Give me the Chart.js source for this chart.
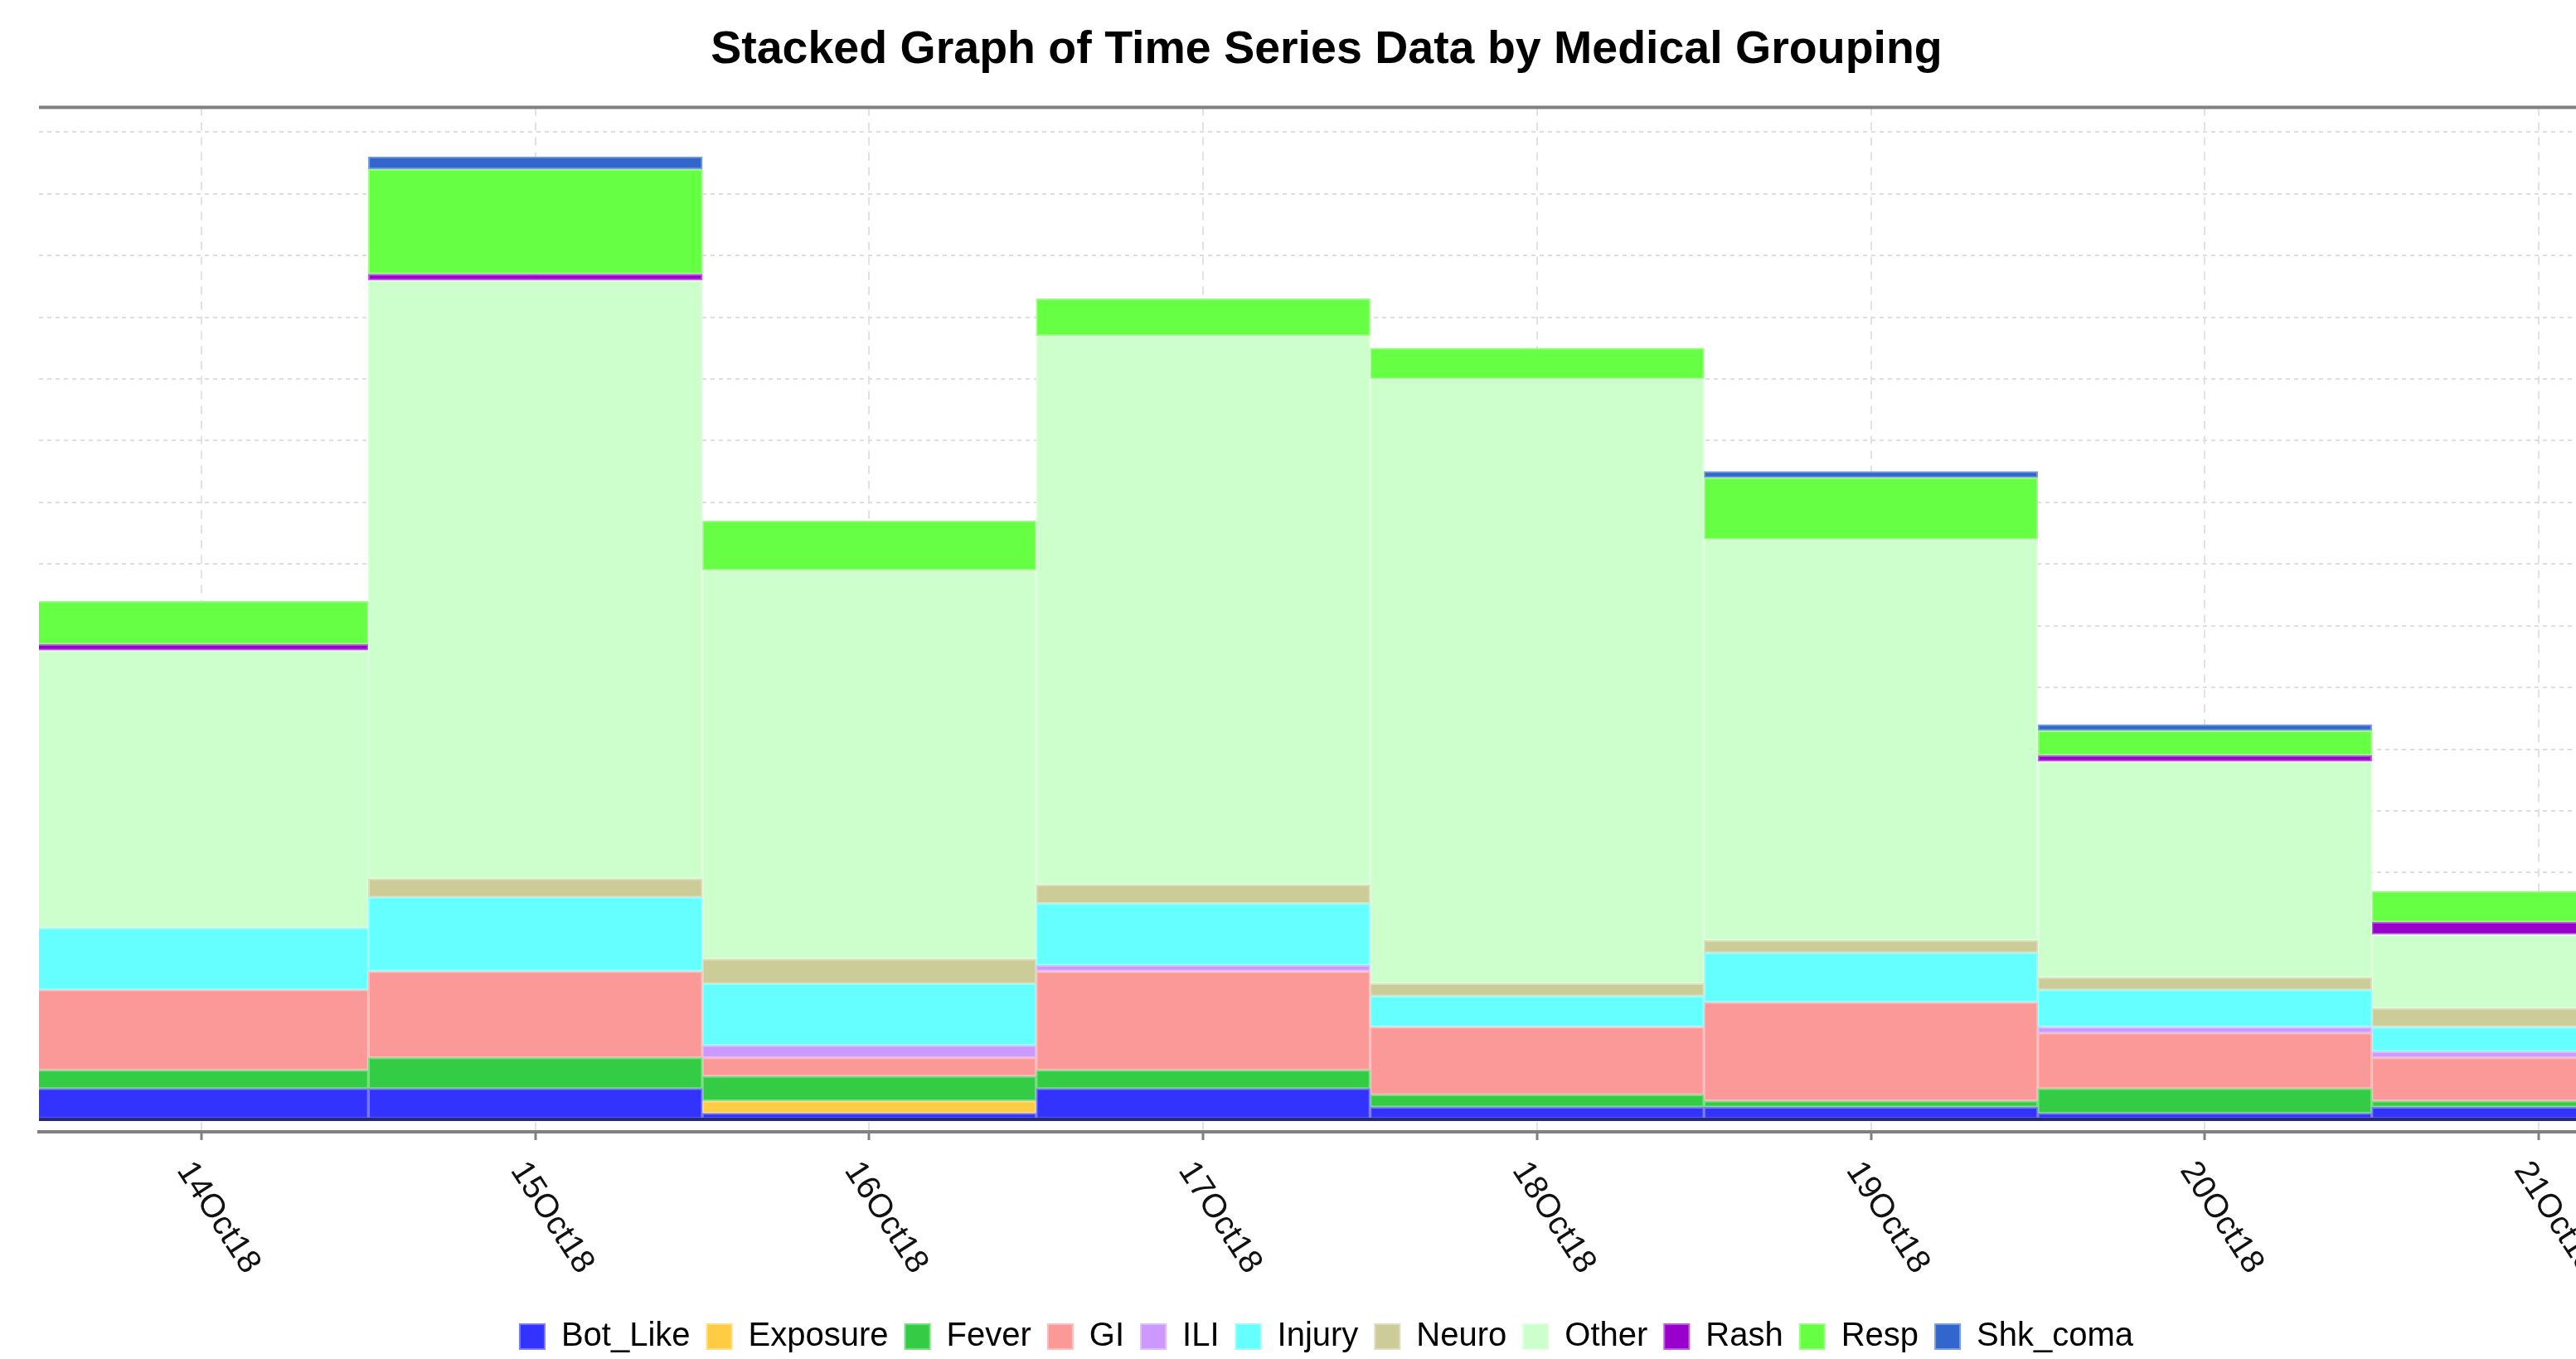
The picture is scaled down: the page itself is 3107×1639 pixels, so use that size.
<!DOCTYPE html>
<html>
<head>
<meta charset="utf-8">
<title>Stacked Graph of Time Series Data by Medical Grouping</title>
<script src="https://cdn.jsdelivr.net/npm/chart.js@4.4.1/dist/chart.umd.min.js"></script>
<style>
  html, body { margin: 0; padding: 0; background: #fff; overflow: hidden; }
  canvas { display: block; }
</style>
</head>
<body>
<canvas id="myChart" width="3153" height="1642"></canvas>
<script>
// daily counts per medical grouping, bottom of the stack first
const dates = ['14Oct18', '15Oct18', '16Oct18', '17Oct18', '18Oct18', '19Oct18', '20Oct18', '21Oct18'];
const botLike  = [5, 5, 1, 5, 2, 2, 1, 2];
const exposure = [0, 0, 2, 0, 0, 0, 0, 0];
const fever    = [3, 5, 4, 3, 2, 1, 4, 1];
const gi       = [13, 14, 3, 16, 11, 16, 9, 7];
const ili      = [0, 0, 2, 1, 0, 0, 1, 1];
const injury   = [10, 12, 10, 10, 5, 8, 6, 4];
const neuro    = [0, 3, 4, 3, 2, 2, 2, 3];
const other    = [45, 97, 63, 89, 98, 65, 35, 12];
const rash     = [1, 1, 0, 0, 0, 0, 1, 2];
const resp     = [7, 17, 8, 6, 5, 10, 4, 5];
const shkComa  = [0, 2, 0, 0, 0, 1, 1, 0];

const seriesNames = ['Bot_Like', 'Exposure', 'Fever', 'GI', 'ILI', 'Injury', 'Neuro', 'Other', 'Rash', 'Resp', 'Shk_coma'];
const seriesValues = [botLike, exposure, fever, gi, ili, injury, neuro, other, rash, resp, shkComa];
const seriesColors = ['#3333ff', '#ffcc44', '#33cc44', '#fb9999', '#cc99ff', '#66ffff',
                      '#cccc99', '#ccffcc', '#9900cc', '#66ff44', '#3366cc'];

// lighter edge colour, like the soft outline round each block
function tint(hex, f) {
  const n = parseInt(hex.slice(1), 16);
  const c = [n >> 16, (n >> 8) & 255, n & 255].map(v => Math.round(v + (255 - v) * f));
  return 'rgb(' + c.join(',') + ')';
}

// dark zero line and the grey line along the top of the plot
const plotFrame = {
  id: 'plotFrame',
  afterDatasetsDraw(chart) {
    const { ctx, chartArea, scales } = chart;
    const y0 = scales.y.getPixelForValue(0);
    ctx.save();
    ctx.lineWidth = 4;
    ctx.strokeStyle = '#282a78';
    ctx.beginPath();
    ctx.moveTo(chartArea.left, y0);
    ctx.lineTo(chartArea.right, y0);
    ctx.stroke();
    ctx.strokeStyle = '#808080';
    ctx.beginPath();
    ctx.moveTo(chartArea.left, chartArea.top);
    ctx.lineTo(chartArea.right, chartArea.top);
    ctx.stroke();
    ctx.restore();
  }
};

const ctx = document.getElementById('myChart');

new Chart(ctx, {
  type: 'bar',
  data: {
    datasets: seriesNames.map((name, k) => ({
      label: name,
      data: seriesValues[k].map((v, i) => ({ x: i, y: v })),
      backgroundColor: seriesColors[k],
      borderColor: tint(seriesColors[k], 0.35),
      borderWidth: 2,
      borderSkipped: false,
      barPercentage: 1,
      categoryPercentage: 1
    }))
  },
  plugins: [plotFrame],
  options: {
    responsive: false,
    animation: false,
    layout: { padding: { left: 47, right: 0, top: 0, bottom: 0 } },
    plugins: {
      title: {
        display: true,
        text: 'Stacked Graph of Time Series Data by Medical Grouping',
        color: '#000',
        font: { family: 'Liberation Sans', size: 55.5, weight: 'bold' },
        padding: { top: 27, bottom: 36 }
      },
      legend: {
        position: 'bottom',
        labels: {
          color: '#000',
          font: { family: 'Liberation Sans', size: 40 },
          boxWidth: 30,
          boxHeight: 30,
          padding: 20
        }
      },
      tooltip: { enabled: false }
    },
    scales: {
      x: {
        type: 'linear',
        stacked: true,
        offset: false,
        min: -0.4867,
        max: 7.226,
        afterFit(scale) {
          scale.height = 207;
          scale.paddingLeft = 0;
          scale.paddingRight = 0;
        },
        grid: {
          offset: false,
          color: '#e2e2e2',
          lineWidth: 2,
          tickColor: '#808080',
          tickWidth: 3,
          tickLength: 10
        },
        border: { color: '#808080', width: 4, dash: [10, 8] },
        ticks: {
          stepSize: 1,
          includeBounds: false,
          autoSkip: false,
          minRotation: -57,
          maxRotation: -57,
          labelOffset: 61,
          padding: 144,
          color: '#111',
          font: { family: 'Liberation Sans', size: 40 },
          callback: (v) => (Number.isInteger(v) && dates[v]) ? dates[v] : ''
        }
      },
      y: {
        stacked: true,
        min: -2.0,
        max: 164.0,
        grid: { color: '#dedede', lineWidth: 2, drawTicks: false },
        border: { display: false, dash: [5, 5] },
        ticks: { display: false, stepSize: 10, includeBounds: false }
      }
    }
  }
});
</script>
</body>
</html>
